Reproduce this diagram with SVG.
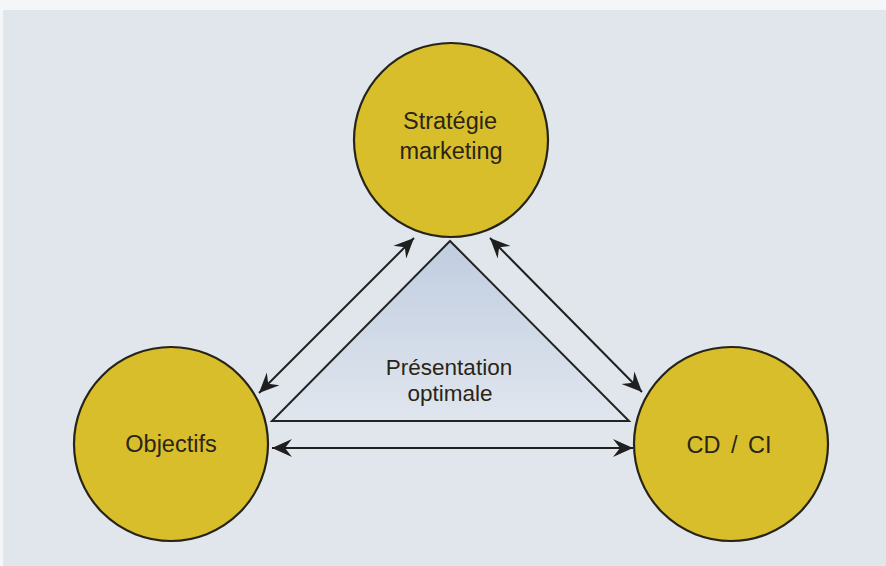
<svg xmlns="http://www.w3.org/2000/svg" width="886" height="566" viewBox="0 0 886 566">
  <style>
    .node circle { fill: #d9be2c; stroke: #262318; stroke-width: 2.2; }
    .lbl { font-family: "Liberation Sans", "DejaVu Sans", sans-serif; font-size: 23.5px; fill: #2a2517; text-anchor: middle; }
    .small { font-size: 22.5px; }
    .conn line { stroke: #1f1f1f; stroke-width: 2; marker-start: url(#ah); marker-end: url(#ah); }
  </style>
  <defs>
    <marker id="ah" viewBox="-21 -10 22 20" refX="0" refY="0" markerWidth="22" markerHeight="20" markerUnits="userSpaceOnUse" orient="auto-start-reverse">
      <path d="M0,0 L-20,-9 L-13,0 L-20,9 Z" fill="#1f1f1f"/>
    </marker>
    <linearGradient id="tri" x1="0" y1="0" x2="0" y2="1">
      <stop offset="0" stop-color="#c0cde0"/>
      <stop offset="1" stop-color="#e0e6ee"/>
    </linearGradient>
  </defs>
  <rect x="0" y="0" width="886" height="566" fill="#f4f6f7"/>
  <rect x="3" y="10" width="883" height="556" fill="#e0e6eb"/>

  <g id="presentation-optimale">
    <polygon points="450,241 272,421 629,421" fill="url(#tri)" stroke="#222" stroke-width="2"/>
    <text class="lbl small" x="449" y="375">Présentation</text>
    <text class="lbl small" x="450" y="401">optimale</text>
  </g>

  <g id="strategie-marketing" class="node">
    <circle cx="451" cy="140" r="97"/>
    <text class="lbl" x="450" y="129">Stratégie</text>
    <text class="lbl" x="451" y="159">marketing</text>
  </g>

  <g id="objectifs" class="node">
    <circle cx="171" cy="444" r="97"/>
    <text class="lbl" x="171" y="452">Objectifs</text>
  </g>

  <g id="cd-ci" class="node">
    <circle cx="731" cy="444" r="97"/>
    <text class="lbl" x="729" y="453" style="word-spacing:4px">CD / CI</text>
  </g>

  <g id="connectors" class="conn">
    <line x1="414" y1="238" x2="259" y2="393"/>
    <line x1="490" y1="238" x2="642" y2="392"/>
    <line x1="272" y1="448" x2="633" y2="448"/>
  </g>
</svg>
